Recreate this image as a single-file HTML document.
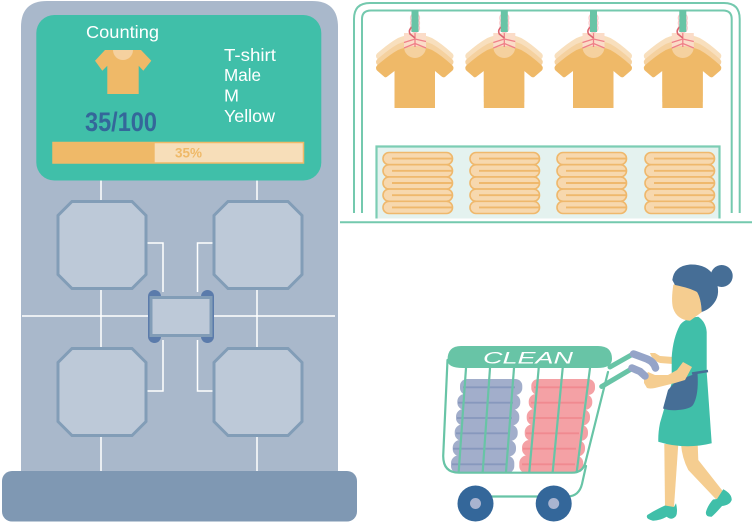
<!DOCTYPE html>
<html>
<head>
<meta charset="utf-8">
<style>
html,body{margin:0;padding:0;background:#fff;width:752px;height:522px;overflow:hidden}
svg{display:block}
text{font-family:"Liberation Sans",sans-serif}
</style>
</head>
<body>
<svg width="752" height="522" viewBox="0 0 752 522" xmlns="http://www.w3.org/2000/svg">
<defs>
<path id="sh" d="M415 46.500 Q424 46.500 432 50 Q441 55 452.500 65.500 Q454.500 68 452.500 70.500 L445 77 Q443 78 441 76 L435 71 V108 H394.500 V71 L388 76 Q386 78 384.500 77 L377 70.500 Q375 68 377 65.500 Q389 55 398 50 Q406 46.500 415 46.500 Z"/>
<g id="shirt">
<use href="#sh" y="-12" fill="#f8dfbd"/>
<use href="#sh" y="-6" fill="#f5d19f"/>
<rect x="404" y="33" width="22" height="15" fill="#fbdcc8"/>
<use href="#sh" fill="#efb968"/>
<path d="M404 47 A11 11 0 0 0 426 47 Z" fill="#f5d19f"/>
<g fill="none" stroke="#f08088" stroke-width="1.300">
<path d="M404 42.500 L415 39 L426 41.500"/>
<path d="M404 48 L415 43.500 L426 48"/>
<path d="M415 33 V47"/>
</g>
<g fill="none" stroke="#fac8ca" stroke-width="1.300">
<circle cx="415" cy="18" r="4.500"/>
<circle cx="415" cy="23" r="4.500"/>
<circle cx="415" cy="28" r="4.500"/>
</g>
<path d="M412 27 Q408 30 410 34 L415 38" fill="none" stroke="#dc6470" stroke-width="1.600"/>
<rect x="411.500" y="10" width="7" height="22" fill="#68c4a6"/>
</g>
<g id="towel" fill="#f7d8ae" stroke="#efb86c" stroke-width="1.600">
<rect x="383" y="152.500" width="69.500" height="12.200" rx="6"/>
<rect x="383" y="164.700" width="69.500" height="12.200" rx="6"/>
<rect x="383" y="176.900" width="69.500" height="12.200" rx="6"/>
<rect x="383" y="189.100" width="69.500" height="12.200" rx="6"/>
<rect x="383" y="201.300" width="69.500" height="12.200" rx="6"/>
<path d="M392 158.600 H452 M392 170.800 H452 M392 183 H452 M392 195.200 H452 M392 207.400 H452" fill="none" stroke-width="1.900"/>
</g>
<polygon id="oct" points="72,201.500 132,201.500 146,215.500 146,274.500 132,288.500 72,288.500 58,274.500 58,215.500" fill="#bdc9d8" stroke="#829db7" stroke-width="3"/>
<clipPath id="stack"><rect x="440" y="370" width="170" height="102"/></clipPath>
</defs>

<!-- machine -->
<path d="M21 475 V27 Q21 1 47 1 H312 Q338 1 338 27 V475 Z" fill="#a9b8cb"/>
<g fill="none" stroke="#fff" stroke-width="1.500">
<path d="M101 180 V472 M257 180 V472 M22 316 H335"/>
<path d="M146 243 H163 V292 M146 391 H163 V340 M213 243 H197.500 V292 M213 391 H197.500 V340"/>
</g>
<use href="#oct"/>
<use href="#oct" x="156"/>
<use href="#oct" y="147"/>
<use href="#oct" x="156" y="147"/>
<rect x="148" y="290" width="13" height="53" rx="6.500" fill="#5b7bab"/>
<rect x="201" y="290" width="13" height="53" rx="6.500" fill="#5b7bab"/>
<rect x="151" y="297.500" width="60" height="38" fill="#bdc9d8" stroke="#829db7" stroke-width="3"/>
<rect x="2" y="471" width="355" height="50.500" rx="10" fill="#7f98b3"/>

<!-- screen -->
<rect x="36.300" y="15" width="285" height="165.500" rx="18" fill="#40bfa9"/>
<text x="86" y="38" font-size="17.500" fill="#fff" textLength="73" lengthAdjust="spacingAndGlyphs">Counting</text>
<path d="M105 50 H141 L151.300 60.700 L143.300 70.700 L138.700 65.700 V94 H107.300 V65.700 L102.300 70.700 L95 60.700 Z" fill="#efb968"/>
<path d="M113 50 A10 10 0 0 0 133 50 Z" fill="#f5d19f"/>
<text x="224" y="61" font-size="17.500" fill="#fff" textLength="52" lengthAdjust="spacingAndGlyphs">T-shirt</text>
<text x="224" y="81" font-size="17.500" fill="#fff" textLength="37" lengthAdjust="spacingAndGlyphs">Male</text>
<text x="224" y="101.500" font-size="17.500" fill="#fff" textLength="15" lengthAdjust="spacingAndGlyphs">M</text>
<text x="224" y="122" font-size="17.500" fill="#fff" textLength="51" lengthAdjust="spacingAndGlyphs">Yellow</text>
<text x="85" y="131" font-size="27" font-weight="bold" fill="#34679a" textLength="72" lengthAdjust="spacingAndGlyphs">35/100</text>
<rect x="53" y="142.500" width="250.500" height="20.500" fill="#f7deb9" stroke="#efb968" stroke-width="1.500"/>
<rect x="53" y="142.500" width="101.700" height="20.500" fill="#efb968"/>
<text x="175" y="157.500" font-size="14" font-weight="bold" fill="#efb968" textLength="27" lengthAdjust="spacingAndGlyphs">35%</text>

<!-- shelf frame -->
<g fill="none" stroke="#74c9ae" stroke-width="2">
<path d="M354 213 V19 Q354 3 370 3 H724 Q739.700 3 739.700 19 V213"/>
<path d="M362 213 V19 Q362 10.500 371 10.500 H723 Q731.700 10.500 731.700 19 V213"/>
</g>
<path d="M340 222.200 H752" stroke="#74c9ae" stroke-width="2"/>
<path d="M376.500 218.500 V146.500 H719.500 V218.500 Z" fill="#e4f2ef"/>
<path d="M376.500 218.500 V146.500 H719.500 V218.500" fill="none" stroke="#7ccdb4" stroke-width="2.200"/>
<use href="#towel"/>
<use href="#towel" x="87"/>
<use href="#towel" x="174"/>
<use href="#towel" x="262"/>
<use href="#shirt"/>
<use href="#shirt" x="89.300"/>
<use href="#shirt" x="178.500"/>
<use href="#shirt" x="267.800"/>

<!-- cart contents -->
<g clip-path="url(#stack)">
<g fill="#a2aecb">
<rect x="460" y="379" width="62.300" height="16" rx="7"/>
<rect x="457.300" y="394" width="63" height="16" rx="7.500"/>
<rect x="456" y="409" width="63.300" height="16.500" rx="7.500"/>
<rect x="454.700" y="424.500" width="63" height="16.500" rx="7.500"/>
<rect x="452.700" y="440" width="63.300" height="16.500" rx="7.500"/>
<rect x="451" y="455.500" width="63.300" height="18" rx="7.500"/>
</g>
<path d="M463 387.300 H515 M458 402.700 H513 M457 418 H512 M456 433.300 H510 M453 448.700 H509 M452 464.300 H507" stroke="#8798bd" stroke-width="1.800" fill="none"/>
<g fill="#f4a1a5">
<rect x="531.300" y="379" width="63.700" height="16" rx="7"/>
<rect x="528.700" y="394" width="63.600" height="16" rx="7.500"/>
<rect x="526.700" y="409" width="63.300" height="16.500" rx="7.500"/>
<rect x="524.700" y="424.500" width="63.300" height="16.500" rx="7.500"/>
<rect x="522" y="440" width="63" height="16.500" rx="7.500"/>
<rect x="519.300" y="455.500" width="64" height="18" rx="7.500"/>
</g>
<path d="M534 387.300 H587 M531 402.700 H584 M529 418 H582 M526 433.300 H579 M523 448.700 H576 M522 464.300 H575" stroke="#f08a90" stroke-width="1.800" fill="none"/>
</g>

<!-- cart frame -->
<g fill="none" stroke="#68c4a6" stroke-linecap="round">
<path d="M447.500 360 L443.200 456 Q443.200 472.700 459 472.700 H572 Q583 472.700 585.500 462 L608 372" stroke-width="2.200"/>
<path d="M586 466 L582 484 Q579 496 568 496.500 H476" stroke-width="2.200"/>
<path d="M466 368 L458.700 472 M490 368 L482.700 472 M514 368 L506 472 M538.700 368 L529.300 472 M562.700 368 L552.700 472 M590 368 L576.700 472" stroke-width="2.200"/>
<path d="M601.700 386.500 L633 368 M610 367 L633 354" stroke-width="5"/>
</g>
<path d="M447.500 360 Q447.500 346 461 346 H598 Q612 346 612 359 Q612 368 597 368 H463 Q447.500 368 447.500 360 Z" fill="#68c4a6"/>
<text x="483" y="363.500" font-size="16.500" font-style="italic" fill="#fff" textLength="90" lengthAdjust="spacingAndGlyphs">CLEAN</text>
<circle cx="475.500" cy="503.500" r="18" fill="#34679a"/>
<circle cx="475.500" cy="503.500" r="5.500" fill="#a9b4d0"/>
<circle cx="553.700" cy="503.500" r="18" fill="#34679a"/>
<circle cx="553.700" cy="503.500" r="5.500" fill="#a9b4d0"/>

<!-- woman -->
<g fill="#f5cd90">
<path d="M664.300 444 H678.300 L674 507 H665 Z"/>
<path d="M681 444 H697.700 L698.300 460 L723.300 491.700 L716.700 500 L688.300 470 Q682 458 681 444 Z"/>
<path d="M650 353 L655 353 L660 356 L673 357 V364 L660 363 Q652 360 650 353 Z"/>
</g>
<path d="M647.300 515 Q655 510 665 505.500 L674 507 L676 503.300 Q678 512 676 516 Q672 521 666.700 516.700 Q660 520.500 653 520.700 Q645 519 647.300 515 Z" fill="#40bfa9"/>
<path d="M723.300 489.300 Q732 494 731.700 500 Q730 505 722 506 Q716 513 711.700 516.700 Q705 517 706 511.700 Q708 505 713 499.500 L717 499 Z" fill="#40bfa9"/>
<path d="M680 325 Q685 318 698.300 316.700 Q706 322 706.700 332 V372 L711.700 443.300 Q685 450 658.300 441.700 Q658 433 660 423 L671.700 383 V357 Q673 338 680 325 Z" fill="#40bfa9"/>
<path d="M668 390 L663 408.500 Q670 411 678 410 Q690 409 693 405 Q699 395 697.500 373 L676 381 Z" fill="#466e96"/>
<path d="M692 373.500 L708 371" stroke="#466e96" stroke-width="2.500" fill="none"/>
<path d="M648 372 L655 375 L668 375 L677 370 L683 362 L692 367 L685 380 L675 383 L655 388 Q650 389 647 388 L644 383 V377 Z" fill="#f5cd90"/>
<path d="M633.500 354 L647 359 Q654 362 655.500 368" fill="none" stroke="#95a4c8" stroke-width="7.500" stroke-linecap="round"/>
<path d="M632 368 L640 371.500 L645 376" fill="none" stroke="#95a4c8" stroke-width="7.500" stroke-linecap="round"/>
<path d="M673.300 285 Q671 300 673 308 Q677 320 690 320.700 L702 312 L699 290 L680 280 Z" fill="#f5cd90"/>
<circle cx="721.700" cy="276" r="11" fill="#466e96"/>
<path d="M672.300 280 Q674 266 690 264.500 Q707 264 714 276 Q721 290 716 300 Q711 309 701.700 312 Q701 298 697 292 Q690 288 675 285 Z" fill="#466e96"/>
</svg>
</body>
</html>
